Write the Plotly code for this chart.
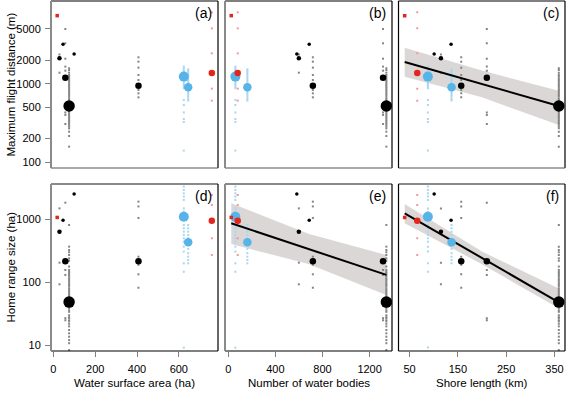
import plotly.graph_objects as go

# ---------------- data ----------------
groups = ["R1", "R2", "Bl1", "Bl2", "B1", "B2", "B3", "B4", "B5", "B6"]
group_colour = ["red", "red", "blue", "blue", "black", "black", "black", "black", "black", "black"]
water_area = [18, 758, 624, 645, 99, 46, 29, 57, 407, 75]           # ha
water_bodies = [25, 80, 60, 162, 582, 687, 599, 1314, 718, 1342]    # count
shore_length = [40, 66, 88, 137, 101, 136, 115, 210, 157, 359]      # km
mean_flight = [7340, 1370, 1230, 900, 2390, 3170, 2100, 1190, 943, 520]
mean_home = [1070, 950, 1100, 432, 2520, 965, 635, 215, 215, 48.6]
mean_n = [1, 6, 20, 14, 1, 1, 2, 6, 7, 45]

flight_R1 = [7340]
flight_R2 = [8090, 5060, 2430, 1420, 1330, 864, 608]
flight_Bl1 = [1650, 1570, 1500, 1440, 1380, 1330, 1290, 1230, 1170, 1110, 1060, 1010,
              960, 915, 875, 620, 535, 430, 355, 325, 141]
flight_Bl2 = [1520, 1465, 1400, 1330, 1260, 1200, 1140, 1080, 1030, 980, 930, 880,
              840, 800, 760, 720, 680, 640, 610]
flight_B1 = [2390]
flight_B2 = [3170]
flight_B3 = [2350, 1380]
flight_B4 = [4965, 3265, 2080, 1650, 1465, 430, 400, 307]
flight_B5 = [2165, 1905, 1600, 1290, 1114, 831, 754, 670]
flight_B6 = [1570, 1490, 1380, 1290, 1230, 1170, 1110, 1060, 1010, 960, 915, 875, 830,
             790, 755, 720, 685, 650, 620, 590, 565, 535, 510, 485, 465, 440, 420, 400,
             380, 365, 345, 330, 315, 300, 285, 270, 245, 216, 158]

home_R1 = [1070]
home_R2 = [2430, 1690, 950, 500, 271]
home_Bl1 = [3300, 2920, 2580, 2300, 2030, 1490, 1320, 812, 720, 637, 564, 500, 442,
            368, 307, 200, 147, 9.2]
home_Bl2 = [812, 720, 637, 564, 499, 391, 340, 290, 255, 226, 200]
home_B1 = [2520]
home_B2 = [975]
home_B3 = [1490, 205, 93]
home_B4 = [1837, 157, 131, 27, 25]
home_B5 = [1905, 1600, 1050, 255, 190, 134, 82]
home_B6 = [812, 368, 326, 300, 271, 240, 220, 178, 157, 147, 140, 131, 124, 116, 109,
           102, 96, 91, 86, 80, 75, 71, 67, 63, 59, 56, 52, 46, 44, 41, 39, 36, 34, 30,
           28, 27, 25, 24, 22, 20, 17.5, 15.5, 13.7, 12.1, 10.8, 8.4]

flight_ind = [flight_R1, flight_R2, flight_Bl1, flight_Bl2, flight_B1, flight_B2,
              flight_B3, flight_B4, flight_B5, flight_B6]
home_ind = [home_R1, home_R2, home_Bl1, home_Bl2, home_B1, home_B2, home_B3,
            home_B4, home_B5, home_B6]

# fitted lines and confidence bands
fit_c_x = [40, 200, 359]
fit_c_y = [1890, 991, 520]
fit_c_lo = [1227, 670, 298]
fit_c_hi = [2870, 1466, 815]

fit_e_x = [25, 680, 1342]
fit_e_y = [865, 338, 131]
fit_e_lo = [406, 195, 63]
fit_e_hi = [1795, 589, 271]

fit_f_x = [40, 200, 359]
fit_f_y = [1245, 244, 48]
fit_f_lo = [864, 194, 38.6]
fit_f_hi = [1750, 307, 80]

flight_ticks = [100, 200, 500, 1000, 2000, 5000]
home_ticks = [10, 100, 1000]
area_ticks = [0, 200, 400, 600]
bodies_ticks = [0, 400, 800, 1200]
shore_ticks = [50, 150, 250, 350]

panel_labels = ["(a)", "(b)", "(c)", "(d)", "(e)", "(f)"]
x_titles = ["Water surface area (ha)", "Number of water bodies", "Shore length (km)"]
y_titles = ["Maximum flight distance (m)", "Home range size (ha)"]

# ---------------- layout geometry ----------------
W, H = 566, 393
def fx(p): return p / W
def fy(p): return 1 - p / H

col_px = [(51, 218), (225, 392), (398.5, 565)]
row_px = [(1, 168), (184, 351)]
x_ranges = [[-11.6, 787.6], [-28, 1390], [27.2, 371.8]]
y_ranges = [[1.927, 4.052], [0.910, 3.560]]

mean_col = {"black": "#000000", "blue": "#56B4E9", "red": "#E2261B"}
ind_col = {"black": "#858585", "blue": "#a9d6f0", "red": "#f09a94"}
FONT = "Liberation Sans, Arial, Helvetica, sans-serif"

xvars = [water_area, water_bodies, shore_length]
yvars_mean = [mean_flight, mean_home]
yvars_ind = [flight_ind, home_ind]
fits = {2: (fit_c_x, fit_c_y, fit_c_lo, fit_c_hi),
        4: (fit_e_x, fit_e_y, fit_e_lo, fit_e_hi),
        5: (fit_f_x, fit_f_y, fit_f_lo, fit_f_hi)}

def size_of(n):
    if n <= 1:
        return 3.5
    if n <= 2:
        return 4.5
    if n <= 8:
        return 6.5
    if n <= 15:
        return 8.5
    if n <= 25:
        return 10
    return 11.5

# draw order of the mean markers: blue, black, then red on top
draw_order = [g for c in ["blue", "black", "red"] for g in range(len(groups)) if group_colour[g] == c]

fig = go.Figure()
layout = dict(width=W, height=H, margin=dict(l=0, r=0, t=0, b=0),
              paper_bgcolor="white", plot_bgcolor="white", showlegend=False,
              font=dict(family=FONT, size=11, color="#000"))
shapes = []
annotations = []

for p in range(6):
    row, col = divmod(p, 3)
    sfx = "" if p == 0 else str(p + 1)
    xa, ya = "x" + sfx, "y" + sfx
    xv = xvars[col]
    # band + fit
    if p in fits:
        fxv, fyv, flo, fhi = fits[p]
        fig.add_trace(go.Scatter(x=list(fxv) + list(fxv[::-1]), y=list(fhi) + list(flo[::-1]),
                                 fill="toself", fillcolor="rgba(205,200,200,0.72)",
                                 line=dict(width=0), mode="lines", xaxis=xa, yaxis=ya,
                                 hoverinfo="skip"))
    # individuals
    for c in ["black", "blue", "red"]:
        xs, ys = [], []
        for g in range(len(groups)):
            if group_colour[g] != c:
                continue
            vals = yvars_ind[row][g]
            xs += [xv[g]] * len(vals)
            ys += vals
        fig.add_trace(go.Scatter(x=xs, y=ys, mode="markers", xaxis=xa, yaxis=ya,
                                 marker=dict(symbol="square", size=2, color=ind_col[c],
                                             opacity=1, line=dict(width=0))))
    if p in fits:
        fxv, fyv, flo, fhi = fits[p]
        fig.add_trace(go.Scatter(x=[fxv[0], fxv[-1]], y=[fyv[0], fyv[-1]], mode="lines",
                                 line=dict(color="black", width=2), xaxis=xa, yaxis=ya))
    # means
    fig.add_trace(go.Scatter(
        x=[xv[g] for g in draw_order],
        y=[yvars_mean[row][g] for g in draw_order],
        mode="markers", xaxis=xa, yaxis=ya,
        marker=dict(size=[size_of(mean_n[g]) for g in draw_order], opacity=1,
                    symbol=["square" if mean_n[g] == 1 and group_colour[g] == "red" else "circle"
                            for g in draw_order],
                    color=[mean_col[group_colour[g]] for g in draw_order], line=dict(width=0))))

    x0, x1 = col_px[col]
    y0, y1 = row_px[row]
    xd = [fx(x0), fx(x1)]
    yd = [fy(y1), fy(y0)]
    xaxis = dict(domain=xd, range=x_ranges[col], anchor=ya, showgrid=False,
                 zeroline=False, showline=False, fixedrange=True)
    yaxis = dict(domain=yd, range=y_ranges[row], type="log", anchor=xa, showgrid=False,
                 zeroline=False, showline=False, fixedrange=True)
    if row == 1:
        xaxis.update(tickmode="array", tickvals=[area_ticks, bodies_ticks, shore_ticks][col],
                     ticks="outside", ticklen=5, tickcolor="#808080", tickwidth=1,
                     tickfont=dict(size=11, color="#000", family=FONT), ticklabelstandoff=3)
    else:
        xaxis.update(showticklabels=False, ticks="")
    if col == 0:
        tv = [flight_ticks, home_ticks][row]
        yaxis.update(tickmode="array", tickvals=tv, ticktext=[str(v) for v in tv],
                     ticks="outside", ticklen=5, tickcolor="#808080", tickwidth=1,
                     tickfont=dict(size=11, color="#000", family=FONT), ticklabelstandoff=2)
    else:
        yaxis.update(showticklabels=False, ticks="")
    layout["xaxis" + sfx] = xaxis
    layout["yaxis" + sfx] = yaxis

    # frame
    left_c = "#8a8a8a" if col < 2 else "#000000"
    left_w = 2 if col < 2 else 1.2
    top_c = "#000000" if row == 0 else "#8a8a8a"
    top_w = 1.2 if row == 0 else 2
    bot_c = "#555555" if row == 0 else "#000000"
    sides = [((x0, y0), (x1, y0), top_c, top_w),
             ((x1, y0), (x1, y1), "#000000", 1.2),
             ((x0, y1), (x1, y1), bot_c, 1.2),
             ((x0, y0), (x0, y1), left_c, left_w)]
    for (a, b), (c_, d), colr, w in sides:
        shapes.append(dict(type="line", xref="paper", yref="paper",
                           x0=fx(a), y0=fy(b), x1=fx(c_), y1=fy(d),
                           line=dict(color=colr, width=w), layer="above"))
    annotations.append(dict(text=panel_labels[p], xref="paper", yref="paper",
                            x=fx(x1 - 4), y=fy(y0 + 12), xanchor="right", yanchor="middle",
                            showarrow=False, font=dict(size=14, color="#000", family=FONT)))

for col in range(3):
    x0, x1 = col_px[col]
    annotations.append(dict(text=x_titles[col], xref="paper", yref="paper",
                            x=fx((x0 + x1) / 2), y=fy(383), xanchor="center",
                            yanchor="middle", showarrow=False,
                            font=dict(size=11.5, color="#000", family=FONT)))
for row in range(2):
    y0, y1 = row_px[row]
    annotations.append(dict(text=y_titles[row], xref="paper", yref="paper",
                            x=fx(10), y=fy((y0 + y1) / 2), xanchor="center",
                            yanchor="middle", textangle=-90, showarrow=False,
                            font=dict(size=11.5, color="#000", family=FONT)))

layout["shapes"] = shapes
layout["annotations"] = annotations
fig.update_layout(**layout)
fig.write_html("out.html", config={"displayModeBar": False, "staticPlot": True},
               post_script="document.body.style.margin='0px';document.body.style.overflow='hidden';")
